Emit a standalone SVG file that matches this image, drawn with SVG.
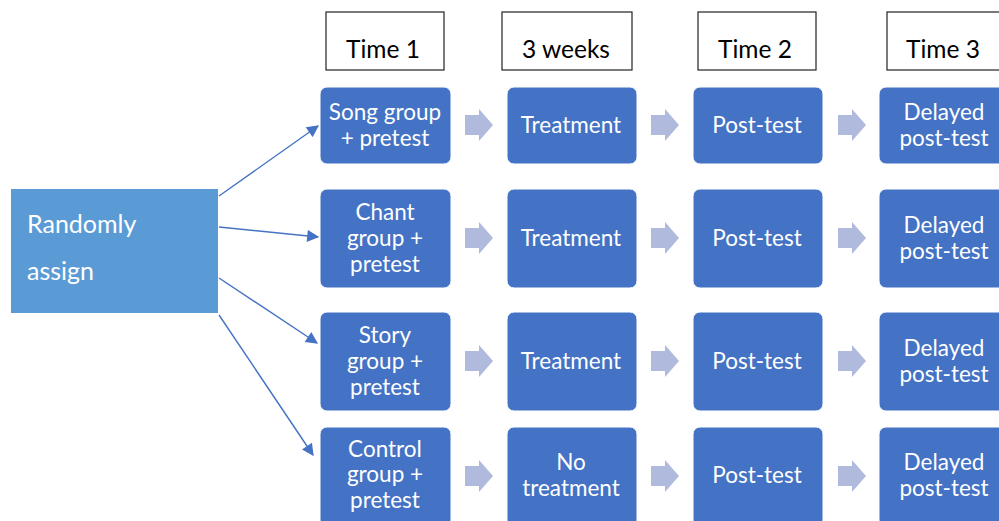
<svg xmlns="http://www.w3.org/2000/svg" width="999" height="521" viewBox="0 0 999 521">
<defs>
<style>
.hdr{fill:#fff;stroke:#222;stroke-width:1.2}
.ht{font-family:Lato,"Liberation Sans",sans-serif;font-size:24.5px;fill:#000;text-anchor:middle}
.nd{fill:#4472C4;stroke:#fff;stroke-width:1}
.nt{font-family:Lato,"Liberation Sans",sans-serif;font-size:22.5px;fill:#fff;text-anchor:middle}
.ba{fill:#AFBADD}
.cn{stroke:#4472C4;stroke-width:1.4;fill:none;marker-end:url(#ah)}
</style>
<marker id="ah" viewBox="0 0 10 10" refX="9" refY="5" markerWidth="14" markerHeight="12" markerUnits="userSpaceOnUse" orient="auto">
<path d="M0,0 L10,5 L0,10 z" fill="#4472C4"/>
</marker>
<path id="blk" d="M0,-10 H14 V-16 L28,0 L14,16 V10 H0 z"/>
</defs>
<rect width="999" height="521" fill="#fff"/>

<g id="headers">
<g id="h1"><rect class="hdr" x="326" y="12" width="118" height="58"/><text class="ht" x="383" y="58">Time 1</text></g>
<g id="h2"><rect class="hdr" x="502" y="12" width="130" height="58"/><text class="ht" x="566" y="58">3 weeks</text></g>
<g id="h3"><rect class="hdr" x="698" y="12" width="118" height="58"/><text class="ht" x="755" y="58">Time 2</text></g>
<g id="h4"><rect class="hdr" x="887" y="12" width="120" height="58"/><text class="ht" x="943" y="58">Time 3</text></g>
</g>

<g id="assign"><rect x="11" y="189" width="207" height="124" fill="#5B9BD5"/>
<text font-family="Lato,'Liberation Sans',sans-serif" font-size="25" fill="#fff" x="27" y="233">Randomly</text>
<text font-family="Lato,'Liberation Sans',sans-serif" font-size="25" fill="#fff" x="27" y="280">assign</text></g>

<g id="connectors">
<line class="cn" x1="219" y1="196" x2="318" y2="126"/>
<line class="cn" x1="219" y1="227" x2="318" y2="237"/>
<line class="cn" x1="219" y1="278" x2="317" y2="343"/>
<line class="cn" x1="219" y1="315" x2="313" y2="455"/>
<use href="#blk" class="ba" x="465" y="125"/>
<use href="#blk" class="ba" x="651" y="125"/>
<use href="#blk" class="ba" x="838" y="125"/>
<use href="#blk" class="ba" x="465" y="238"/>
<use href="#blk" class="ba" x="651" y="238"/>
<use href="#blk" class="ba" x="838" y="238"/>
<use href="#blk" class="ba" x="465" y="361"/>
<use href="#blk" class="ba" x="651" y="361"/>
<use href="#blk" class="ba" x="838" y="361"/>
<use href="#blk" class="ba" x="465" y="476"/>
<use href="#blk" class="ba" x="651" y="476"/>
<use href="#blk" class="ba" x="838" y="476"/>
</g>

<g id="song"><rect class="nd" x="320" y="87" width="131" height="77" rx="7"/><text class="nt" x="385" y="120">Song group</text><text class="nt" x="385" y="146">+ pretest</text></g>
<g id="treat1"><rect class="nd" x="507" y="87" width="130" height="77" rx="7"/><text class="nt" x="571" y="133">Treatment</text></g>
<g id="post1"><rect class="nd" x="693" y="87" width="130" height="77" rx="7"/><text class="nt" x="757" y="133">Post-test</text></g>
<g id="delay1"><rect class="nd" x="879" y="87" width="131" height="77" rx="7"/><text class="nt" x="944" y="120">Delayed</text><text class="nt" x="944" y="146">post-test</text></g>

<g id="chant"><rect class="nd" x="320" y="189" width="131" height="99" rx="7"/><text class="nt" x="385" y="220">Chant</text><text class="nt" x="385" y="246">group +</text><text class="nt" x="385" y="272">pretest</text></g>
<g id="treat2"><rect class="nd" x="507" y="189" width="130" height="99" rx="7"/><text class="nt" x="571" y="246">Treatment</text></g>
<g id="post2"><rect class="nd" x="693" y="189" width="130" height="99" rx="7"/><text class="nt" x="757" y="246">Post-test</text></g>
<g id="delay2"><rect class="nd" x="879" y="189" width="131" height="99" rx="7"/><text class="nt" x="944" y="233">Delayed</text><text class="nt" x="944" y="259">post-test</text></g>

<g id="story"><rect class="nd" x="320" y="312" width="131" height="99" rx="7"/><text class="nt" x="385" y="343">Story</text><text class="nt" x="385" y="369">group +</text><text class="nt" x="385" y="395">pretest</text></g>
<g id="treat3"><rect class="nd" x="507" y="312" width="130" height="99" rx="7"/><text class="nt" x="571" y="369">Treatment</text></g>
<g id="post3"><rect class="nd" x="693" y="312" width="130" height="99" rx="7"/><text class="nt" x="757" y="369">Post-test</text></g>
<g id="delay3"><rect class="nd" x="879" y="312" width="131" height="99" rx="7"/><text class="nt" x="944" y="356">Delayed</text><text class="nt" x="944" y="382">post-test</text></g>

<g id="control"><rect class="nd" x="320" y="427" width="131" height="100" rx="7"/><text class="nt" x="385" y="457">Control</text><text class="nt" x="385" y="482">group +</text><text class="nt" x="385" y="508">pretest</text></g>
<g id="notreat"><rect class="nd" x="507" y="427" width="130" height="100" rx="7"/><text class="nt" x="571" y="470">No</text><text class="nt" x="571" y="496">treatment</text></g>
<g id="post4"><rect class="nd" x="693" y="427" width="130" height="100" rx="7"/><text class="nt" x="757" y="483">Post-test</text></g>
<g id="delay4"><rect class="nd" x="879" y="427" width="131" height="100" rx="7"/><text class="nt" x="944" y="470">Delayed</text><text class="nt" x="944" y="496">post-test</text></g>
</svg>
